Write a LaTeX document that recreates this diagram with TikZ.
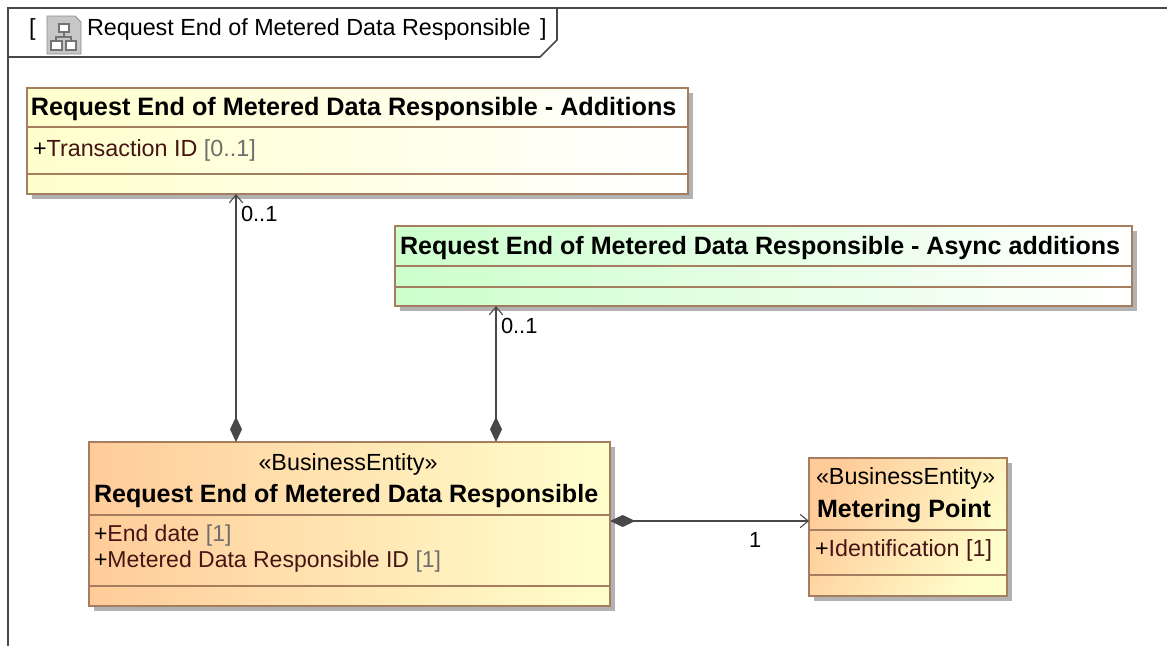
\documentclass[tikz,border=0pt]{standalone}
\usepackage{fontspec}
\setmainfont{Liberation Sans}
\usetikzlibrary{arrows.meta,shadows}
\definecolor{edgebrown}{RGB}{165,125,95}
\definecolor{linegray}{RGB}{72,72,72}
\definecolor{attrred}{RGB}{70,20,20}
\definecolor{multgray}{RGB}{110,110,110}
\definecolor{yellowlt}{RGB}{255,255,204}
\definecolor{greenlt}{RGB}{204,255,204}
\definecolor{orangelt}{RGB}{255,204,153}
\newcommand{\regtext}{\fontsize{17.5pt}{20pt}\selectfont}
\newcommand{\smalltext}{\fontsize{17.25pt}{20pt}\selectfont}
\newcommand{\multtext}{\fontsize{16.4pt}{20pt}\selectfont}
\newcommand{\boldtext}{\fontsize{18.8pt}{20pt}\selectfont\bfseries}
\newcommand{\boldwide}{\fontsize{18.9pt}{20pt}\selectfont\bfseries}
\newcommand{\attr}[2]{\textcolor{black}{+}\textcolor{attrred}{#1} \textcolor{multgray}{#2}}
\tikzset{
  classbox/.style={draw=edgebrown,line width=1.5pt,inner sep=0pt,outer sep=0pt,anchor=north west,
    drop shadow={shadow xshift=3.5pt,shadow yshift=-3.5pt,fill=black!30,opacity=1}},
  txt/.style={inner sep=0pt,outer sep=0pt,anchor=base west,font=\regtext},
  attrtxt/.style={txt,font=\smalltext},
  multtxt/.style={txt,font=\multtext},
  titletxt/.style={inner sep=0pt,outer sep=0pt,anchor=base west,font=\boldtext},
  titlewide/.style={titletxt,font=\boldwide},
  compline/.style={draw=edgebrown,line width=1.3pt},
  frameline/.style={draw=linegray,line width=1.2pt},
  assoc/.style={draw=linegray,line width=1.6pt,
    {Diamond[length=19pt,width=9pt,fill=linegray]}-{Straight Barb[length=6pt,width=10pt,line width=.8pt]}}
}
\begin{document}
\begin{tikzpicture}[x=0.75pt,y=-0.75pt]
\useasboundingbox (0,0) rectangle (1167,646);
% frame
\draw[frameline] (1167,8) -- (8,8) -- (8,646);
\draw[frameline] (8,57) -- (540,57) -- (557,40) -- (557,8);
\node[txt] (lb) at (29,36) {[};
\node[txt] (ft) at (87,36) {Request End of Metered Data Responsible};
\node[txt] (rb) at (540,36) {]};
% diagram icon
\fill[black!22,draw=black!45,line width=.7pt] (47,16) -- (75,16) -- (81,22) -- (81,54) -- (47,54) -- cycle;
\draw[black!55,line width=.8pt,fill=white] (59,24) rectangle (69,32) (51,41) rectangle (62,50) (66,41) rectangle (76,50);
\draw[black!55,line width=.8pt] (64,32) -- (64,37) (56,41) -- (56,37) -- (71,37) -- (71,41);
% classes
\node[classbox,left color=yellowlt,right color=white,minimum width=661*0.75pt,minimum height=106*0.75pt] (A) at (27,88) {};
\draw[compline] (A.west |- 0,127) -- (A.east |- 0,127) (A.west |- 0,174) -- (A.east |- 0,174);
\node[titlewide] (At) at (31,115) {Request End of Metered Data Responsible - Additions};
\node[txt] (Aa) at (33,156) {\attr{Transaction ID}{[0..1]}};

\node[classbox,left color=greenlt,right color=white,minimum width=737*0.75pt,minimum height=80*0.75pt] (B) at (395,226) {};
\draw[compline] (B.west |- 0,266) -- (B.east |- 0,266) (B.west |- 0,287) -- (B.east |- 0,287);
\node[titletxt] (Bt) at (400,254) {Request End of Metered Data Responsible - Async additions};

\node[classbox,left color=orangelt,right color=yellowlt,minimum width=521*0.75pt,minimum height=164*0.75pt] (C) at (89,442) {};
\draw[compline] (C.west |- 0,515) -- (C.east |- 0,515) (C.west |- 0,586) -- (C.east |- 0,586);
\node[txt,anchor=base] (Cs) at (348,470) {«BusinessEntity»};
\node[titletxt] (Ct) at (94,502) {Request End of Metered Data Responsible};
\node[attrtxt] (Ca) at (94,541) {\attr{End date}{[1]}};
\node[attrtxt] (Cb) at (94,567) {\attr{Metered Data Responsible ID}{[1]}};

\node[classbox,left color=orangelt,right color=yellowlt,shading angle=60,minimum width=198*0.75pt,minimum height=138*0.75pt] (D) at (809,458) {};
\draw[compline] (D.west |- 0,530) -- (D.east |- 0,530) (D.west |- 0,575) -- (D.east |- 0,575);
\node[txt,anchor=base] (Ds) at (905.5,484) {«BusinessEntity»};
\node[titletxt] (Dt) at (817,517) {Metering Point};
\node[txt] (Da) at (815,556) {+\textcolor{attrred}{Identification [1]}};
% connectors
\coordinate (c1) at (236,0);
\coordinate (c2) at (496,0);
\coordinate (c3) at (0,521);
\draw[assoc] (c1 |- C.north) -- (c1 |- A.south);
\draw[assoc] (c2 |- C.north) -- (c2 |- B.south);
\draw[assoc] (C.east |- c3) -- (D.west |- c3);
\node[multtxt] (m1) at (241,221) {0..1};
\node[multtxt] (m2) at (501,333) {0..1};
\node[multtxt] (m3) at (749,547) {1};
\end{tikzpicture}
\end{document}
